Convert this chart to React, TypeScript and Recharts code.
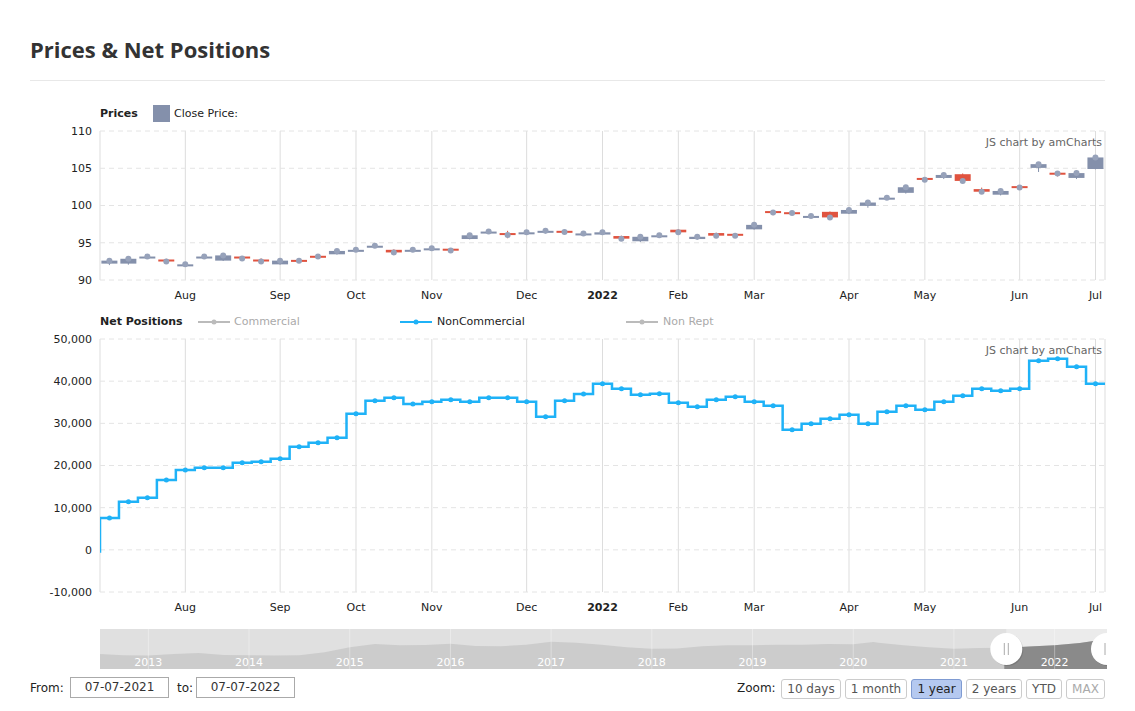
import React from "react";
import {
  ComposedChart,
  AreaChart,
  Area,
  Bar,
  Line,
  XAxis,
  YAxis,
  CartesianGrid,
  ReferenceArea,
  ReferenceLine,
  ReferenceDot,
} from "recharts";

// weekly candles, Jul 2021 -> Jul 2022 (index = week number)
const openP = [
  92.2, 92.2, 92.9, 92.75, 91.95, 92.9, 92.6, 93.15, 92.75, 92.1, 92.7, 93.25, 93.45, 93.85,
  94.4, 94.05, 93.85, 94.0, 94.2, 95.5, 96.35, 96.3, 96.25, 96.35, 96.6, 96.0, 96.1, 95.9,
  95.2, 95.85, 96.75, 95.5, 96.3, 96.2, 96.8, 99.25, 99.1, 98.45, 99.15, 98.9, 99.95, 100.8,
  101.7, 103.7, 103.7, 104.2, 102.2, 101.45, 102.6, 105.05, 104.4, 103.7, 104.9,
];
const closeP = [
  92.6, 92.85, 93.15, 92.5, 92.1, 93.15, 93.3, 92.9, 92.5, 92.6, 92.6, 93.15, 93.9, 94.05,
  94.6, 93.7, 94.05, 94.25, 93.95, 96.0, 96.5, 96.05, 96.4, 96.6, 96.45, 96.25, 96.4, 95.55,
  95.8, 96.0, 96.4, 95.8, 95.95, 95.95, 97.4, 99.05, 99.0, 98.6, 98.4, 99.4, 100.4, 101.05,
  102.45, 103.45, 104.1, 103.3, 101.85, 101.95, 102.4, 105.55, 104.3, 104.35, 106.45,
];
const highP = [
  92.8, 93.05, 93.25, 92.85, 92.3, 93.3, 93.4, 93.2, 92.9, 92.75, 92.8, 93.35, 94.0, 94.15,
  94.7, 94.1, 94.15, 94.35, 94.25, 96.1, 96.6, 96.6, 96.5, 96.7, 96.7, 96.4, 96.5, 95.95,
  96.0, 96.1, 96.8, 95.9, 96.35, 96.25, 97.6, 99.3, 99.25, 98.7, 99.2, 99.7, 100.5, 101.15,
  102.55, 103.75, 104.25, 104.3, 102.4, 102.15, 102.75, 105.7, 104.55, 104.5, 106.55,
];
const lowP = [
  92.0, 92.05, 92.85, 92.3, 91.9, 92.85, 92.55, 92.85, 92.45, 92.05, 92.3, 93.05, 93.4, 93.8,
  94.3, 93.55, 93.8, 93.95, 93.9, 95.45, 96.3, 95.6, 96.2, 96.25, 96.4, 95.95, 96.05, 95.45,
  95.1, 95.8, 96.35, 95.4, 95.9, 95.9, 96.75, 98.7, 98.75, 98.35, 98.1, 98.85, 99.7, 100.75,
  101.6, 103.15, 103.55, 103.2, 101.65, 101.35, 102.25, 104.5, 103.9, 103.55, 104.85,
];

// NonCommercial net positions; first value is the week before the window
const netPrev = -400;
const netNonComm = [
  7550, 11420, 12370, 16560, 18930, 19490, 19490, 20670, 20910, 21620, 24470, 25410, 26600,
  32290, 35380, 36090, 34580, 35140, 35610, 35140, 36090, 36090, 35140, 31580, 35380, 36960,
  39410, 38220, 36800, 37040, 34900, 33950, 35610, 36320, 35140, 34190, 28500, 29920, 31110,
  32060, 29920, 32770, 34190, 33240, 35140, 36560, 38220, 37750, 38220, 44860, 45340, 43440,
  39410,
];

const tickIdx = [4, 9, 13, 17, 22, 26, 30, 34, 39, 43, 48, 52];
const tickLabels = ["Aug", "Sep", "Oct", "Nov", "Dec", "2022", "Feb", "Mar", "Apr", "May", "Jun", "Jul"];
const priceTicks = [90, 95, 100, 105, 110];
const netTicks = [-10000, 0, 10000, 20000, 30000, 40000, 50000];

// scrollbar silhouette (quarterly close, full history)
const scrollT = [
  2012.5, 2012.75, 2013, 2013.25, 2013.5, 2013.75, 2014, 2014.25, 2014.5, 2014.75, 2015,
  2015.25, 2015.5, 2015.75, 2016, 2016.25, 2016.5, 2016.75, 2017, 2017.25, 2017.5, 2017.75,
  2018, 2018.25, 2018.5, 2018.75, 2019, 2019.25, 2019.5, 2019.75, 2020, 2020.2, 2020.25,
  2020.5, 2020.75, 2021, 2021.25, 2021.5, 2021.75, 2022, 2022.25, 2022.52,
];
const scrollV = [
  82.7, 80.5, 80, 82.5, 84, 81, 80.5, 80, 80.5, 85, 93, 98, 96, 96.5, 98.5, 95, 94.5, 97,
  101.5, 100, 97, 93, 90.5, 91, 94.5, 96, 96, 97, 97, 98, 97.5, 101, 100, 96, 93, 90.5, 92,
  92.2, 94, 96, 99.5, 106,
];
const scrollYears = [2013, 2014, 2015, 2016, 2017, 2018, 2019, 2020, 2021, 2022];
const selStart = 2021.52;
const selEnd = 2022.52;

const GRAY = "#8490ab";
const RED = "#e0533f";
const DOT = "#97a2ba";
const BLUE = "#1fb2f7";
const FONT = '"DejaVu Sans", Verdana, sans-serif';

const priceTable = openP.map((o, i) => ({
  i,
  open: o,
  close: closeP[i],
  high: highP[i],
  low: lowP[i],
  range: [lowP[i], highP[i]],
}));

const netTable = [{ i: -1, net: netPrev }, ...netNonComm.map((v, i) => ({ i, net: v }))];

const scrollTable = scrollT.map((t, k) => ({
  t,
  v: scrollV[k],
  sel: t >= selStart - 0.05 ? scrollV[k] : null,
}));

// step line whose flat parts cover each week's whole band
const bandStep = (context: any) => {
  let pts: [number, number][] = [];
  return {
    areaStart() {},
    areaEnd() {},
    lineStart() {
      pts = [];
    },
    lineEnd() {
      if (!pts.length) return;
      const half = pts.length > 1 ? (pts[1][0] - pts[0][0]) / 2 : 0;
      context.moveTo(pts[0][0] - half, pts[0][1]);
      for (let k = 1; k < pts.length; k++) {
        const mx = (pts[k - 1][0] + pts[k][0]) / 2;
        context.lineTo(mx, pts[k - 1][1]);
        context.lineTo(mx, pts[k][1]);
      }
      const last = pts[pts.length - 1];
      context.lineTo(last[0] + half, last[1]);
    },
    point(x: number, y: number) {
      pts.push([+x, +y]);
    },
  };
};

function Candle(props: any) {
  const { x, y, width, height, payload } = props;
  if (!payload || y == null) return null;
  const { open, close, high, low } = payload;
  const cx = x + width / 2;
  const toY = (v: number) => y + ((high - v) / (high - low)) * height;
  const color = close >= open ? GRAY : RED;
  const top = toY(Math.max(open, close));
  const bottom = toY(Math.min(open, close));
  return (
    <g>
      <line x1={cx} x2={cx} y1={y} y2={y + height} stroke={color} strokeWidth={1} />
      <rect x={cx - 8} y={top} width={16} height={Math.max(bottom - top, 2)} fill={color} />
      <circle cx={cx} cy={toY(close)} r={3} fill={DOT} />
    </g>
  );
}

function MonthTick(props: any) {
  const { x, y, payload } = props;
  const label = tickLabels[tickIdx.indexOf(payload.value)];
  return (
    <text
      x={x}
      y={y + 11}
      textAnchor="middle"
      fontSize={11}
      fontFamily={FONT}
      fontWeight={label === "2022" ? "bold" : "normal"}
      fill="#222"
    >
      {label}
    </text>
  );
}

function Handle(props: any) {
  const { cx, cy } = props;
  return (
    <g>
      <circle cx={cx + 1} cy={cy + 1} r={16} fill="rgba(0,0,0,0.12)" />
      <circle cx={cx} cy={cy} r={16} fill="#fff" />
      <line x1={cx - 2} x2={cx - 2} y1={cy - 6} y2={cy + 6} stroke="#aaa" />
      <line x1={cx + 2} x2={cx + 2} y1={cy - 6} y2={cy + 6} stroke="#aaa" />
    </g>
  );
}

function LegendMarker({ color, x, y }: { color: string; x: number; y: number }) {
  return (
    <svg style={{ position: "absolute", left: x, top: y }} width={34} height={8}>
      <line x1={1} x2={33} y1={4} y2={4} stroke={color} strokeWidth={2} />
      <circle cx={17} cy={4} r={2.5} fill={color} />
    </svg>
  );
}

const txt = (left: number, top: number, extra: React.CSSProperties = {}): React.CSSProperties => ({
  position: "absolute",
  left,
  top,
  fontFamily: FONT,
  fontSize: 11,
  lineHeight: "16px",
  color: "#222",
  whiteSpace: "nowrap",
  ...extra,
});

const zoomButtons = [
  { label: "10 days", left: 781, width: 60 },
  { label: "1 month", left: 845, width: 62 },
  { label: "1 year", left: 911, width: 51, active: true },
  { label: "2 years", left: 966, width: 56 },
  { label: "YTD", left: 1026, width: 36 },
  { label: "MAX", left: 1066, width: 39, dim: true },
];

const axisTick = { fontSize: 11, fill: "#222", fontFamily: FONT };

export default function App() {
  return (
    <div
      style={{
        position: "absolute",
        left: 0,
        top: 0,
        width: 1135,
        height: 711,
        background: "#fff",
        overflow: "hidden",
      }}
    >
      <div
        style={{
          position: "absolute",
          left: 30,
          top: 34,
          fontFamily: '"Open Sans", sans-serif',
          fontWeight: 700,
          fontSize: 22,
          lineHeight: "30px",
          color: "#333",
        }}
      >
        Prices &amp; Net Positions
      </div>
      <div style={{ position: "absolute", left: 30, top: 80, width: 1075, height: 1, background: "#e8e8e8" }} />

      {/* price panel legend */}
      <div style={txt(100, 106, { fontWeight: "bold" })}>Prices</div>
      <div style={{ position: "absolute", left: 153, top: 105, width: 17, height: 17, background: GRAY }} />
      <div style={txt(174, 106)}>Close Price:</div>

      <div style={{ position: "absolute", left: 0, top: 100 }}>
        <ComposedChart
          width={1135}
          height={210}
          data={priceTable}
          margin={{ top: 31, right: 30, bottom: 0, left: 40 }}
        >
          <CartesianGrid horizontal={false} stroke="#dddddd" />
          <CartesianGrid vertical={false} stroke="#e4e4e4" strokeDasharray="5 4" />
          <XAxis
            dataKey="i"
            type="number"
            domain={[-0.5, 52.5]}
            allowDataOverflow
            ticks={tickIdx}
            interval={0}
            tick={<MonthTick />}
            axisLine={false}
            tickLine={false}
            height={30}
          />
          <YAxis
            domain={[90, 110]}
            ticks={priceTicks}
            allowDataOverflow
            tick={axisTick}
            axisLine={false}
            tickLine={false}
            width={60}
          />
          <Bar dataKey="range" shape={<Candle />} isAnimationActive={false} />
        </ComposedChart>
      </div>
      <div style={txt(0, 135, { width: 1102, textAlign: "right", color: "#666" })}>JS chart by amCharts</div>

      {/* net positions legend */}
      <div style={txt(100, 314, { fontWeight: "bold" })}>Net Positions</div>
      <LegendMarker color="#bbbbbb" x={197} y={318} />
      <div style={txt(234, 314, { color: "#aaa" })}>Commercial</div>
      <LegendMarker color={BLUE} x={399} y={318} />
      <div style={txt(437, 314)}>NonCommercial</div>
      <LegendMarker color="#bbbbbb" x={625} y={318} />
      <div style={txt(663, 314, { color: "#aaa" })}>Non Rept</div>

      <div style={{ position: "absolute", left: 0, top: 320 }}>
        <ComposedChart
          width={1135}
          height={302}
          data={netTable}
          margin={{ top: 19, right: 30, bottom: 0, left: 30 }}
        >
          <CartesianGrid horizontal={false} stroke="#dddddd" />
          <CartesianGrid vertical={false} stroke="#e4e4e4" strokeDasharray="5 4" />
          <XAxis
            dataKey="i"
            type="number"
            domain={[-0.5, 52.5]}
            allowDataOverflow
            ticks={tickIdx}
            interval={0}
            tick={<MonthTick />}
            axisLine={false}
            tickLine={false}
            height={30}
          />
          <YAxis
            domain={[-10000, 50000]}
            ticks={netTicks}
            tick={axisTick}
            tickFormatter={(v: number) => v.toLocaleString("en-US")}
            axisLine={false}
            tickLine={false}
            width={70}
          />
          <Line
            dataKey="net"
            type={bandStep as any}
            stroke={BLUE}
            strokeWidth={2.5}
            dot={{ r: 2.5, fill: BLUE, stroke: BLUE, strokeWidth: 0 }}
            activeDot={false}
            isAnimationActive={false}
          />
        </ComposedChart>
      </div>
      <div style={txt(0, 343, { width: 1102, textAlign: "right", color: "#666" })}>JS chart by amCharts</div>

      {/* scrollbar */}
      <div style={{ position: "absolute", left: 100, top: 629, width: 1007, height: 40, background: "#e0e0e0" }}>
        <AreaChart width={1007} height={40} data={scrollTable} margin={{ top: 0, right: 0, bottom: 0, left: 0 }}>
          <XAxis dataKey="t" type="number" domain={[2012.52, selEnd]} hide allowDataOverflow />
          <YAxis domain={[59, 121.5]} hide allowDataOverflow />
          <ReferenceArea x1={selStart} x2={selEnd} fill="#ebebeb" fillOpacity={1} stroke="none" />
          <Area
            dataKey="v"
            type="linear"
            stroke="none"
            fill="#cccccc"
            fillOpacity={1}
            isAnimationActive={false}
          />
          <Area
            dataKey="sel"
            type="linear"
            stroke="none"
            fill="#8a8a8a"
            fillOpacity={1}
            connectNulls={false}
            isAnimationActive={false}
          />
          {scrollYears.map((yr) => (
            <ReferenceLine
              key={yr}
              x={yr}
              stroke="#ffffff"
              strokeOpacity={0.35}
              label={{
                value: String(yr),
                position: "insideBottom",
                fill: "#ffffff",
                fontSize: 11,
                fontFamily: FONT,
                offset: 3,
              }}
            />
          ))}
          <ReferenceDot x={selStart} y={90.25} shape={<Handle />} ifOverflow="visible" />
          <ReferenceDot x={selEnd} y={90.25} shape={<Handle />} ifOverflow="visible" />
        </AreaChart>
      </div>

      {/* period selector */}
      <div style={txt(30, 680, { fontSize: 12 })}>From:</div>
      <div
        style={txt(70, 677, {
          width: 97,
          height: 19,
          border: "1px solid #aaa",
          fontSize: 12,
          lineHeight: "19px",
          textAlign: "center",
          color: "#333",
        })}
      >
        07-07-2021
      </div>
      <div style={txt(177, 680, { fontSize: 12 })}>to:</div>
      <div
        style={txt(196, 677, {
          width: 97,
          height: 19,
          border: "1px solid #aaa",
          fontSize: 12,
          lineHeight: "19px",
          textAlign: "center",
          color: "#333",
        })}
      >
        07-07-2022
      </div>
      <div style={txt(737, 680, { fontSize: 12 })}>Zoom:</div>
      {zoomButtons.map((b) => (
        <div
          key={b.label}
          style={txt(b.left, 679, {
            width: b.width - 2,
            height: 18,
            border: b.active ? "1px solid #7f9bd2" : "1px solid #cccccc",
            borderRadius: 3,
            background: b.active ? "#b5c9f0" : "#ffffff",
            fontSize: 12,
            lineHeight: "18px",
            textAlign: "center",
            color: b.active ? "#222" : b.dim ? "#aaa" : "#555",
          })}
        >
          {b.label}
        </div>
      ))}
    </div>
  );
}
